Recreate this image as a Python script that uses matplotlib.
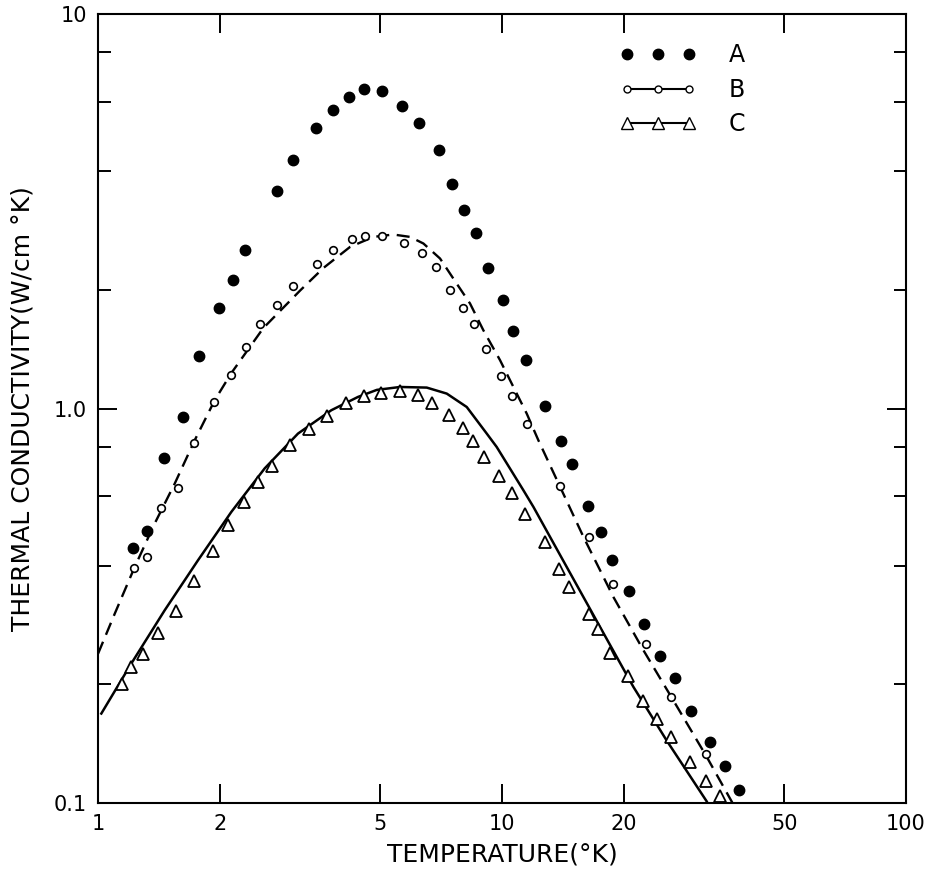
import numpy as np
import matplotlib.pyplot as plt
from matplotlib.lines import Line2D
from matplotlib.ticker import FixedLocator, FixedFormatter, NullFormatter

# sample A (filled dots)
a_temp = [1.22, 1.32, 1.46, 1.62, 1.78, 1.99, 2.16, 2.31, 2.78, 3.04, 3.47, 3.82, 4.18,
          4.55, 5.05, 5.66, 6.24, 7.00, 7.51, 8.05, 8.64, 9.25, 10.04, 10.67, 11.47,
          12.8, 14.0, 14.9, 16.35, 17.55, 18.75, 20.6, 22.5, 24.6, 26.8, 29.3, 32.8,
          35.6, 38.5]
a_k = [0.442, 0.490, 0.751, 0.949, 1.357, 1.803, 2.115, 2.519, 3.568, 4.253, 5.144,
       5.704, 6.165, 6.458, 6.383, 5.838, 5.297, 4.534, 3.703, 3.195, 2.782, 2.272,
       1.882, 1.570, 1.328, 1.015, 0.826, 0.723, 0.566, 0.486, 0.413, 0.344, 0.284,
       0.236, 0.2075, 0.1716, 0.1426, 0.1238, 0.1082]

# sample B (open circles)
b_temp = [1.23, 1.32, 1.43, 1.58, 1.73, 1.94, 2.13, 2.32, 2.52, 2.78, 3.03, 3.49, 3.82,
          4.25, 4.58, 5.04, 5.72, 6.33, 6.87, 7.45, 8.02, 8.51, 9.13, 9.93, 10.57,
          11.51, 13.92, 16.42, 18.79, 22.72, 26.2, 32.04]
b_k = [0.394, 0.420, 0.558, 0.629, 0.817, 1.037, 1.214, 1.433, 1.636, 1.835, 2.042,
       2.331, 2.519, 2.697, 2.745, 2.734, 2.624, 2.48, 2.281, 2.002, 1.803, 1.636,
       1.416, 1.21, 1.074, 0.916, 0.635, 0.473, 0.359, 0.2526, 0.1854, 0.1335]

# sample C (open triangles)
c_temp = [1.149, 1.209, 1.295, 1.41, 1.56, 1.725, 1.922, 2.101, 2.294, 2.485, 2.692,
          2.982, 3.335, 3.688, 4.111, 4.548, 5.026, 5.602, 6.184, 6.722, 7.379, 8.008,
          8.462, 9.043, 9.849, 10.57, 11.4, 12.76, 13.84, 14.65, 16.42, 17.29, 18.54,
          20.51, 22.3, 24.24, 26.2, 29.19, 31.93, 34.7]
c_k = [0.1998, 0.2206, 0.2393, 0.2699, 0.3076, 0.3649, 0.4341, 0.508, 0.5797, 0.6503,
       0.7152, 0.8102, 0.8862, 0.9598, 1.033, 1.076, 1.098, 1.108, 1.083, 1.033,
       0.9616, 0.8929, 0.826, 0.7554, 0.6749, 0.6124, 0.5396, 0.4582, 0.3915, 0.3529,
       0.301, 0.2754, 0.2401, 0.21, 0.1815, 0.1631, 0.1466, 0.1271, 0.1138, 0.104]

# calculated curves (dashed goes with B, solid with C)
b_fit_temp = [1.0, 1.1, 1.233, 1.381, 1.548, 1.735, 1.945, 2.138, 2.566, 3.162, 3.611,
              4.205, 4.804, 5.383, 5.919, 6.388, 7.024, 7.72, 8.332, 8.99, 9.886, 10.67,
              11.51, 12.3, 15.9, 18.86, 22.38, 26.55, 32.1, 37.2]
b_fit_k = [0.239, 0.302, 0.397, 0.511, 0.645, 0.831, 1.05, 1.23, 1.60, 1.99, 2.27,
           2.568, 2.723, 2.761, 2.723, 2.62, 2.4, 2.074, 1.846, 1.579, 1.326, 1.134,
           0.971, 0.831, 0.473, 0.333, 0.244, 0.182, 0.131, 0.1]
c_fit_temp = [1.019, 1.209, 1.462, 1.768, 2.138, 2.585, 3.126, 3.779, 4.4, 4.9, 5.592,
              6.51, 7.297, 8.177, 9.165, 9.7, 11.29, 11.96, 14.45, 17.48, 21.14, 25.56,
              32.1]
c_fit_k = [0.1686, 0.2258, 0.308, 0.4125, 0.547, 0.705, 0.864, 0.99, 1.07, 1.115, 1.134,
           1.13, 1.091, 1.009, 0.864, 0.799, 0.621, 0.563, 0.397, 0.2795, 0.197, 0.144,
           0.101]

x_ticks = [1, 2, 5, 10, 20, 50, 100]
x_ticklabels = ['1', '2', '5', '10', '20', '50', '100']
y_ticks = [0.1, 1.0, 10]
y_ticklabels = ['0.1', '1.0', '10']
y_minor = [0.2, 0.4, 0.6, 0.8, 2, 4, 6, 8]

plt.rcParams['font.family'] = ['DejaVu Sans']

fig = plt.figure(figsize=(9.39, 8.76), dpi=100)
ax = fig.add_axes([0.1044, 0.0833, 0.8605, 0.9007])

ax.plot(b_fit_temp, b_fit_k, color='black', lw=1.7, linestyle=(0, (5.5, 3.2)),
        solid_joinstyle='round')
ax.plot(c_fit_temp, c_fit_k, color='black', lw=1.8, solid_joinstyle='round')
ax.plot(a_temp, a_k, linestyle='none', marker='o', ms=7.5, color='black')
ax.plot(b_temp, b_k, linestyle='none', marker='o', ms=5.5, mfc='white', mec='black', mew=1.2)
ax.plot(c_temp, c_k, linestyle='none', marker='^', ms=9, mfc='white', mec='black', mew=1.3)

ax.set_xscale('log')
ax.set_yscale('log')
ax.set_xlim(1, 100)
ax.set_ylim(0.1, 10)

ax.xaxis.set_major_locator(FixedLocator(x_ticks))
ax.xaxis.set_major_formatter(FixedFormatter(x_ticklabels))
ax.xaxis.set_minor_locator(FixedLocator([]))
ax.yaxis.set_major_locator(FixedLocator(y_ticks))
ax.yaxis.set_major_formatter(FixedFormatter(y_ticklabels))
ax.yaxis.set_minor_locator(FixedLocator(y_minor))
ax.yaxis.set_minor_formatter(NullFormatter())

ax.tick_params(which='both', direction='in', top=True, right=True, width=1.4, colors='black')
ax.tick_params(which='major', length=14, labelsize=15, pad=8)
ax.tick_params(which='minor', length=9)
for sp in ax.spines.values():
    sp.set_linewidth(1.5)

ax.set_xlabel('TEMPERATURE(°K)', fontsize=18, labelpad=6)
ax.set_ylabel('THERMAL CONDUCTIVITY(W/cm °K)', fontsize=18, labelpad=14)

handles = [
    Line2D([], [], linestyle='none', marker='o', ms=7.5, color='black'),
    Line2D([], [], color='black', lw=1.5, marker='o', ms=5, mfc='white', mec='black'),
    Line2D([], [], color='black', lw=1.5, marker='^', ms=9, mfc='white', mec='black'),
]
ax.legend(handles, ['A', 'B', 'C'], loc='upper left', bbox_to_anchor=(0.62, 0.99),
          frameon=False, numpoints=3, fontsize=17, handlelength=3.2,
          labelspacing=0.45, handletextpad=1.4)

fig.savefig('out.png', dpi=100)
